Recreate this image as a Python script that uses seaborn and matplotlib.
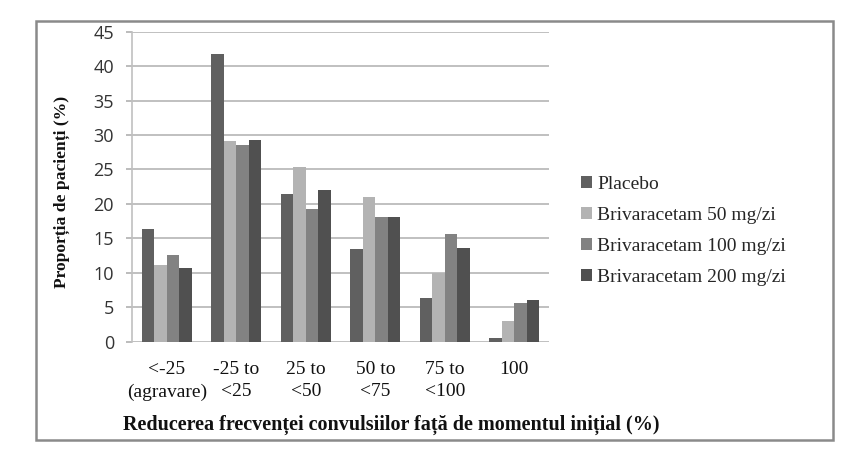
import matplotlib
matplotlib.use("Agg")
import matplotlib.pyplot as plt
import seaborn as sns
import pandas as pd
from matplotlib.patches import Rectangle, Patch

categories = ["<-25\n(agravare)", "-25 to\n<25", "25 to\n<50", "50 to\n<75", "75 to\n<100", "100"]
series = ["Placebo", "Brivaracetam 50 mg/zi", "Brivaracetam 100 mg/zi", "Brivaracetam 200 mg/zi"]
placebo = [16.3, 41.7, 21.5, 13.4, 6.4, 0.6]
briv50 = [11.1, 29.2, 25.4, 21.0, 10.0, 3.0]
briv100 = [12.6, 28.6, 19.2, 18.1, 15.7, 5.6]
briv200 = [10.7, 29.3, 22.0, 18.1, 13.6, 6.0]
colors = ["#606060", "#b3b3b3", "#828282", "#505050"]

rows = []
for s, vals in zip(series, [placebo, briv50, briv100, briv200]):
    for c, v in zip(categories, vals):
        rows.append({"cat": c, "series": s, "val": v})
df = pd.DataFrame(rows)

sns.set_theme(style="white")
plt.rcParams["font.family"] = ["DejaVu Sans"]
serif = ["Liberation Serif", "DejaVu Serif"]

fig = plt.figure(figsize=(8.68, 4.63), dpi=100)
ax = fig.add_axes([132/868, 1-341.7/463, (549-132)/868, (341.7-31.7)/463])

sns.barplot(data=df, x="cat", y="val", hue="series", order=categories, hue_order=series,
            palette=colors, width=0.72, gap=0, saturation=1, ax=ax, legend=False,
            edgecolor="none", linewidth=0, err_kws={"linewidth": 0})

ax.set_ylim(0, 45)
ax.set_yticks(range(0, 46, 5))
ax.set_xlim(-0.5, 5.5)
ax.yaxis.grid(True, color="#b5b5b5", linewidth=1.2)
ax.set_axisbelow(True)
for sp in ["top", "right", "bottom"]:
    ax.spines[sp].set_visible(False)
ax.spines["left"].set_color("#c0c0c0")
ax.spines["left"].set_linewidth(1.2)
ax.tick_params(axis="y", which="both", left=True, length=4, color="#b0b0b0", width=1.2,
               pad=9, labelsize=13, labelcolor="#333333")
ax.tick_params(axis="x", bottom=False, pad=8)
for lab in ax.get_yticklabels():
    lab.set_fontfamily(["Open Sans", "DejaVu Sans"])
ax.set_xticks(range(len(categories)))
ax.set_xticklabels(categories, fontfamily=serif, fontsize=14,
                   linespacing=1.4, color="#111111")
ax.set_xlabel("Reducerea frecvenței convulsiilor față de momentul inițial (%)",
              fontfamily=serif, fontweight="bold", fontsize=14.5, color="#111111")
ax.xaxis.set_label_coords((391-132)/417, (341.7-415)/310)
ax.set_ylabel("Proporția de pacienți (%)", fontfamily=serif,
              fontweight="bold", fontsize=12.6, color="#111111")
ax.yaxis.set_label_coords((70-132)/417, (341.7-192)/310)

handles = [Patch(facecolor=c, edgecolor="none") for c in colors]
fig.legend(handles, series, loc="center left", bbox_to_anchor=(563/868, 1-231/463),
           frameon=False, handlelength=0.57, handleheight=0.57, handletextpad=0.3,
           labelspacing=0.72, prop={"family": serif, "size": 14})

fig.patches.append(Rectangle((36/868, 1-439.5/463), (833-36)/868, (439.5-20.5)/463,
                             transform=fig.transFigure, fill=False, edgecolor="#8a8a8a",
                             linewidth=1.8))

fig.savefig("out.png", dpi=100)
